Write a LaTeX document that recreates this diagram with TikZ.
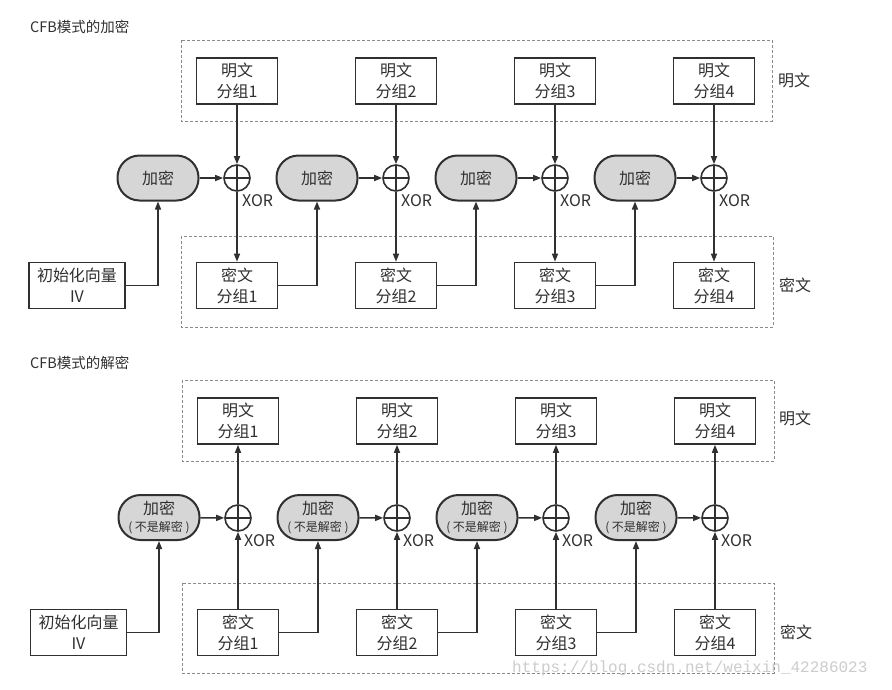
\documentclass[tikz,border=0pt]{standalone}
\usepackage{fontspec}
\setmainfont{Noto Sans CJK SC}
\newfontfamily\urlfont{Liberation Mono}
\usetikzlibrary{arrows.meta}

\definecolor{ink}{HTML}{303030}
\definecolor{pillgray}{HTML}{D6D6D6}
\definecolor{dashgray}{HTML}{8A8A8A}

\tikzset{
  blockbox/.style={draw=ink, line width=1.6pt, minimum width=81pt, minimum height=46pt,
    inner sep=0pt, align=center, text=ink, font=\fontsize{16}{21}\selectfont},
  pillbox/.style={draw=ink, fill=pillgray, line width=2pt, rounded corners=22pt,
    minimum width=81pt, minimum height=45pt, inner sep=0pt, align=center, text=ink,
    font=\fontsize{16}{17}\selectfont},
  xorop/.style={circle, draw=ink, line width=1.6pt, minimum size=26pt, inner sep=0pt,
    path picture={\draw[ink, line width=1.6pt]
      (path picture bounding box.north) -- (path picture bounding box.south)
      (path picture bounding box.west) -- (path picture bounding box.east);}},
  xortext/.style={anchor=west, inner sep=0pt, text=ink, font=\fontsize{16}{16}\selectfont},
  sidetext/.style={inner sep=0pt, text=ink, font=\fontsize{16}{16}\selectfont},
  titletext/.style={anchor=west, inner sep=0pt, text=ink, font=\fontsize{14.5}{14.5}\selectfont},
  groupbox/.style={draw=dashgray, line width=0.7pt, dash pattern=on 3pt off 2pt},
  arr/.style={draw=ink, line width=1.5pt, -{Triangle[length=8pt,width=6pt]}}
}

\begin{document}
\begin{tikzpicture}[x=1pt, y=-1pt]
  \fill[white] (0,0) rectangle (892,689);
  \useasboundingbox (0,0) rectangle (892,689);

  % ---------------- encryption ----------------
  \node[titletext] (etitle) at (30,27) {CFB模式的加密};

  % dashed groups for plaintext and ciphertext
  \draw[groupbox] (181,40) rectangle (772,121);
  \draw[groupbox] (181,236) rectangle (773,327);
  \node[sidetext] (eplainlab) at (794,80) {明文};
  \node[sidetext] (ecipherlab) at (795,285) {密文};

  % one column per block
  \foreach \i in {1,...,4} {
    \pgfmathsetmacro{\cx}{237+159*(\i-1)}
    \node[blockbox] (eplain\i) at (\cx,81) {明文\\分组\i};
    \node[xorop] (exor\i) at (\cx,178) {};
    \node[xortext] (exorlab\i) at (\cx+5,201) {XOR};
    \node[pillbox] (eenc\i) at (\cx-79,178) {加密};
    \node[blockbox] (ecipher\i) at (\cx,285.5) {密文\\分组\i};
    \draw[arr] (eplain\i) -- (exor\i);
    \draw[arr] (eenc\i) -- (exor\i);
    \draw[arr] (exor\i) -- (ecipher\i);
  }

  % initialization vector and feedback
  \node[blockbox, minimum width=96pt] (eiv) at (77,285.5) {初始化向量\\IV};
  \draw[arr] (eiv.east) -| (eenc1.south);
  \foreach \i/\j in {1/2,2/3,3/4}
    \draw[arr] (ecipher\i.east) -| (eenc\j.south);

  % ---------------- decryption ----------------
  \node[titletext] (dtitle) at (30,363) {CFB模式的解密};

  \draw[groupbox] (182,380) rectangle (774,461);
  \draw[groupbox] (182,583) rectangle (774,673);
  \node[sidetext] (dplainlab) at (795,418) {明文};
  \node[sidetext] (dcipherlab) at (796,632) {密文};

  \foreach \i in {1,...,4} {
    \pgfmathsetmacro{\cx}{238+159*(\i-1)}
    \node[blockbox] (dplain\i) at (\cx,421) {明文\\分组\i};
    \node[xorop] (dxor\i) at (\cx,518) {};
    \node[xortext] (dxorlab\i) at (\cx+6,541) {XOR};
    \node[pillbox] (denc\i) at (\cx-79,517.5)
      {加密\\{\fontsize{12}{13}\selectfont ( 不是解密 )}};
    \node[blockbox] (dcipher\i) at (\cx,632.5) {密文\\分组\i};
    \draw[arr] (dcipher\i) -- (dxor\i);
    \draw[arr] (denc\i) -- (dxor\i);
    \draw[arr] (dxor\i) -- (dplain\i);
  }

  \node[blockbox, minimum width=96pt] (div) at (78.5,632.5) {初始化向量\\IV};
  \draw[arr] (div.east) -| (denc1.south);
  \foreach \i/\j in {1/2,2/3,3/4}
    \draw[arr] (dcipher\i.east) -| (denc\j.south);

  % watermark
  \node[anchor=west, inner sep=0pt, text=gray!40, font=\urlfont\fontsize{16}{16}\selectfont]
    (wmark) at (512,668) {https://blog.csdn.net/weixin\_42286023};
\end{tikzpicture}
\end{document}
